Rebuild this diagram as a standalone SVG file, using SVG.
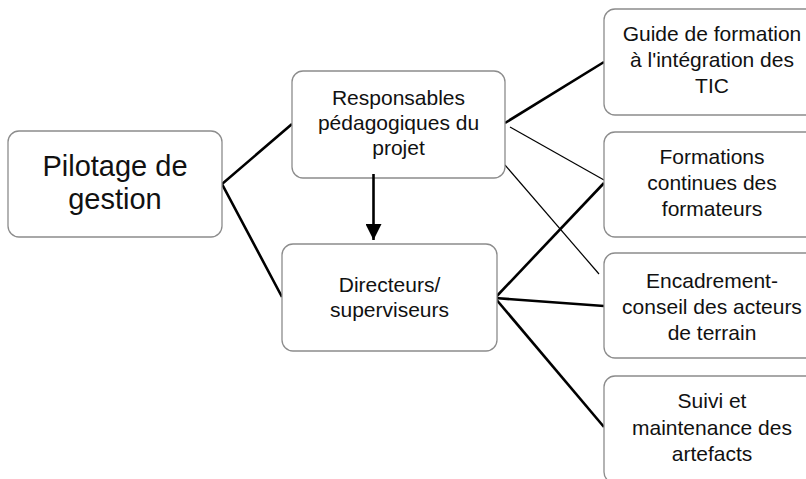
<svg xmlns="http://www.w3.org/2000/svg" width="806" height="479" viewBox="0 0 806 479">
<defs>
<style>
.box{fill:#fff;stroke:#8c8c8c;stroke-width:1.3}
.t{font-family:"Liberation Sans",Arial,sans-serif;font-size:21px;fill:#111;text-anchor:middle}
.big{font-size:29px}
.thick{stroke:#000;stroke-width:2.6;fill:none}
.thin{stroke:#000;stroke-width:1.2;fill:none}
</style>
<marker id="ah" markerWidth="16" markerHeight="16" refX="16" refY="8" orient="auto" markerUnits="userSpaceOnUse">
<path d="M0,0 L16,8 L0,16 Z" fill="#000"/>
</marker>
</defs>
<rect width="806" height="479" fill="#fff"/>
<g id="connectors">
<polyline class="thick" points="292,124 222,184 282,297"/>
<line class="thick" x1="505" y1="123" x2="604" y2="62"/>
<line class="thin" x1="510" y1="127" x2="604" y2="180"/>
<line class="thin" x1="505" y1="165" x2="599" y2="274"/>
<line class="thick" x1="495" y1="298" x2="604" y2="183"/>
<line class="thick" x1="495" y1="298" x2="604" y2="306"/>
<line class="thick" x1="495" y1="298" x2="604" y2="427"/>
</g>
<g id="pilotage">
<rect class="box" x="8" y="131" width="214" height="106" rx="11"/>
<text class="t big" x="115" y="176">Pilotage de</text>
<text class="t big" x="115" y="209">gestion</text>
</g>
<g id="responsables">
<rect class="box" x="292" y="71" width="213" height="107" rx="11"/>
<text class="t" x="398.5" y="105">Responsables</text>
<text class="t" x="398.5" y="130">pédagogiques du</text>
<text class="t" x="398.5" y="155">projet</text>
</g>
<g id="directeurs">
<rect class="box" x="282" y="244" width="215" height="107" rx="11"/>
<text class="t" x="389.5" y="292">Directeurs/</text>
<text class="t" x="389.5" y="317">superviseurs</text>
</g>
<g id="arrow">
<line class="thick" x1="373.5" y1="174" x2="373.5" y2="240" marker-end="url(#ah)"/>
</g>
<g id="guide">
<rect class="box" x="604" y="9" width="216" height="106" rx="11"/>
<text class="t" x="712" y="41">Guide de formation</text>
<text class="t" x="712" y="67">à l'intégration des</text>
<text class="t" x="712" y="93">TIC</text>
</g>
<g id="formations">
<rect class="box" x="604" y="132" width="216" height="105" rx="11"/>
<text class="t" x="712" y="164">Formations</text>
<text class="t" x="712" y="190">continues des</text>
<text class="t" x="712" y="216">formateurs</text>
</g>
<g id="encadrement">
<rect class="box" x="604" y="253" width="216" height="105" rx="11"/>
<text class="t" x="712" y="288">Encadrement-</text>
<text class="t" x="712" y="314">conseil des acteurs</text>
<text class="t" x="712" y="340">de terrain</text>
</g>
<g id="suivi">
<rect class="box" x="604" y="376" width="216" height="107" rx="11"/>
<text class="t" x="712" y="408">Suivi et</text>
<text class="t" x="712" y="435">maintenance des</text>
<text class="t" x="712" y="461">artefacts</text>
</g>
</svg>
